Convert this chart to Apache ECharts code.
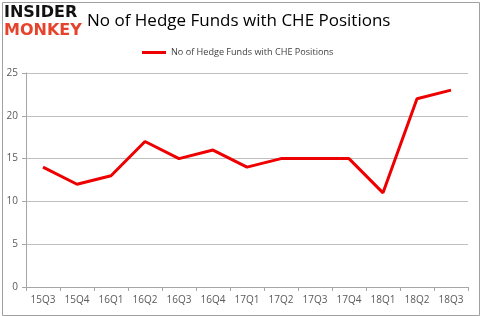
<!DOCTYPE html>
<html><head><meta charset="utf-8">
<script src="https://cdn.jsdelivr.net/npm/echarts@6/dist/echarts.min.js"></script>
<style>html,body{margin:0;padding:0;background:#fff}#c{width:480px;height:316px}</style>
</head><body><div id="c"></div>
<script>
var categories = ['15Q3','15Q4','16Q1','16Q2','16Q3','16Q4','17Q1','17Q2','17Q3','17Q4','18Q1','18Q2','18Q3'];
var seriesName = 'No of Hedge Funds with CHE Positions';
var values = [14,12,13,17,15,16,14,15,15,15,11,22,23];
var titleText = 'No of Hedge Funds with CHE Positions';
var logoTop = 'INSIDER';
var logoBottom = 'MONKEY';

var chart = echarts.init(document.getElementById('c'), null, {renderer:'canvas'});
chart.setOption({
  animation:false,
  backgroundColor:'#fff',
  title:{text:titleText,left:82,top:8,textStyle:{fontFamily:'Open Sans',fontSize:17,fontWeight:'normal',color:'#000'}},
  legend:{data:[seriesName],top:43,left:137,itemWidth:24,itemHeight:3,itemGap:3,icon:'rect',
    textStyle:{fontFamily:'Open Sans',fontSize:9.1,color:'#404040'}},
  grid:{left:26,right:12,top:73,bottom:29,containLabel:false},
  xAxis:{type:'category',data:categories,boundaryGap:true,
    axisLine:{lineStyle:{color:'#a6a6a6'}},axisTick:{show:true,length:4,lineStyle:{color:'#a6a6a6'}},
    axisLabel:{fontFamily:'Open Sans',fontSize:10,color:'#595959',margin:8}},
  yAxis:{type:'value',min:0,max:25,interval:5,
    axisLine:{show:true,lineStyle:{color:'#a6a6a6'}},axisTick:{show:true,length:4,lineStyle:{color:'#a6a6a6'}},
    splitLine:{lineStyle:{color:'#bfbfbf'}},
    axisLabel:{fontFamily:'Open Sans',fontSize:10,color:'#595959',margin:8}},
  series:[{name:seriesName,type:'line',data:values,symbol:'none',
    lineStyle:{color:'#ee0000',width:3},itemStyle:{color:'#ee0000'}}],
  graphic:[
    {type:'rect',left:0,top:0,shape:{x:0.5,y:0.5,width:477,height:313},style:{fill:'none',stroke:'#a0a0a0',lineWidth:1},silent:true},
    {type:'text',left:4,top:5,style:{text:logoTop,font:'900 16px "DejaVu Sans"',fill:'#111'}},
    {type:'text',left:4,top:23,style:{text:logoBottom,font:'900 16px "DejaVu Sans"',fill:'#e5432b'}}
  ]
});
</script></body></html>
